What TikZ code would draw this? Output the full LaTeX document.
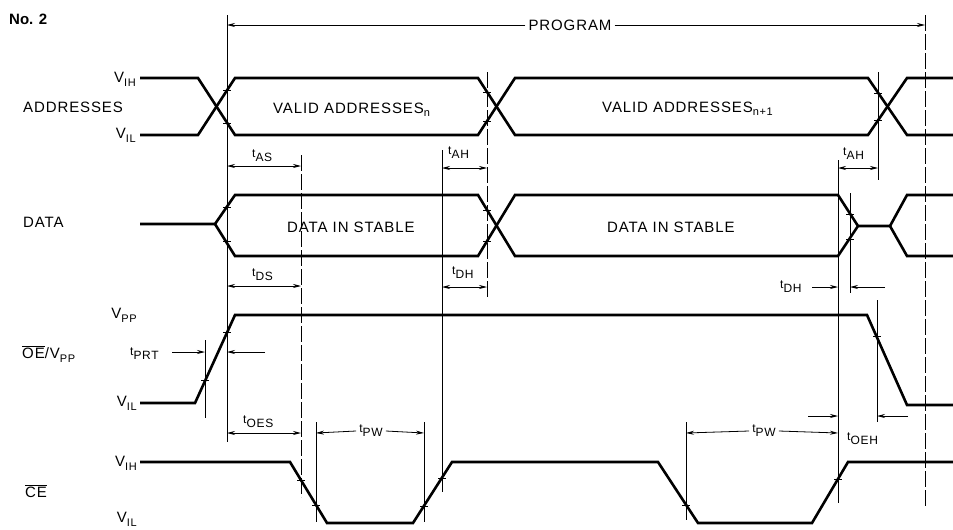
\documentclass[tikz,border=0pt]{standalone}
\usepackage{fontspec}
\setmainfont{Liberation Sans}
\newfontfamily\lf[LetterSpace=6]{Liberation Sans}
\usetikzlibrary{arrows.meta}
\newcommand\vsb[2]{#1\raisebox{-4pt}{\fontsize{11}{11}\selectfont #2}}
\newcommand\tsb[1]{{\fontsize{12}{12}\selectfont t\raisebox{-4pt}{#1}}}
\begin{document}
\begin{tikzpicture}[x=1pt,y=-1pt,
  font=\lf\fontsize{15}{17}\selectfont,
  every node/.style={inner sep=0pt},
  wave/.style={line width=2.6pt,line join=miter},
  refl/.style={line width=0.8pt},
  brk/.style={line width=0.8pt,dash pattern=on 16pt off 3pt},
  dim/.style={line width=0.8pt,{Stealth[length=8pt,width=4pt]}-{Stealth[length=8pt,width=4pt]}},
  dimr/.style={line width=0.8pt,-{Stealth[length=8pt,width=4pt]}},
  tk/.style={line width=1pt},
  tlab/.style={anchor=base west},
  vlab/.style={anchor=base east}]
\useasboundingbox (0,0) rectangle (953,530);
% title
\node[anchor=base west,font=\bfseries\fontsize{15}{16}\selectfont] (title) at (9,24) {No. 2};
% reference lines
\draw[refl] (227,15) -- (227,442);
\draw[brk] (301,155) -- (301,497);
\draw[refl] (442,150) -- (442,492);
\draw[brk] (487,72) -- (487,297);
\draw[refl] (316,422) -- (316,522);
\draw[refl] (424,422) -- (424,522);
\draw[refl] (686,422) -- (686,520);
\draw[refl] (838,160) -- (838,503);
\draw[refl] (878,72) -- (878,180);
\draw[refl] (850,193) -- (850,293);
\draw[refl] (877,300) -- (877,422);
\draw[brk] (925,15) -- (925,508);
\draw[refl] (205,340) -- (205,418);
% program
\node (prog) at (570,25) {PROGRAM};
\coordinate (pl) at (227,25);
\coordinate (pr) at (925,25);
\draw[dimr] (prog.west) ++(-3,0) -- (pl);
\draw[dimr] (prog.east) ++(3,0) -- (pr);
% labels left
\node[vlab] (aih) at (136,82) {\vsb{V}{IH}};
\node[anchor=base west] (addr) at (23,112) {ADDRESSES};
\node[vlab] (ail) at (136,138) {\vsb{V}{IL}};
\node[anchor=base west] (data) at (23,227) {DATA};
\node[vlab] (vpp) at (137,318) {\vsb{V}{PP}};
\node[anchor=base west] (oe) at (22,358) {$\overline{\mbox{\lf\fontsize{15}{17}\selectfont OE}}$/\vsb{V}{PP}};
\node[vlab] (oil) at (137,406) {\vsb{V}{IL}};
\node[vlab] (cih) at (137,466) {\vsb{V}{IH}};
\node[anchor=base west] (ce) at (25,497) {$\overline{\mbox{\lf\fontsize{15}{17}\selectfont CE}}$};
\node[vlab] (cil) at (137,522) {\vsb{V}{IL}};
% waveforms: addresses
\draw[wave] (140,78) -- (198,78) -- (235,135) -- (478,135) -- (515,78) -- (868,78) -- (907,135) -- (953,135);
\draw[wave] (140,135) -- (198,135) -- (235,78) -- (478,78) -- (515,135) -- (868,135) -- (907,78) -- (953,78);
\node[anchor=base west] (va1) at (273,113) {VALID ADDRESSES\raisebox{-3pt}{\fontsize{11}{11}\selectfont n}};
\node[anchor=base west] (va2) at (602,112) {VALID ADDRESSES\raisebox{-3pt}{\fontsize{11}{11}\selectfont n+1}};
% data
\draw[wave] (140,224) -- (215,224) -- (235,195) -- (478,195) -- (515,256) -- (838,256) -- (858,226) -- (890,226) -- (907,195) -- (953,195);
\draw[wave] (215,224) -- (235,256) -- (478,256) -- (515,195) -- (838,195) -- (858,226);
\draw[wave] (890,226) -- (907,256) -- (953,256);
\node[anchor=base west] (ds1) at (287,232) {DATA IN STABLE};
\node[anchor=base west] (ds2) at (607,232) {DATA IN STABLE};
% OE / VPP
\draw[wave] (140,403) -- (195,403) -- (235,315) -- (867,315) -- (907,405) -- (953,405);
% CE
\draw[wave] (140,462) -- (290,462) -- (327,523) -- (413,523) -- (452,462) -- (658,462) -- (698,523) -- (812,523) -- (848,462) -- (953,462);
% ticks
\foreach \p in {(227,90),(227,123),(487,92),(487,121),(878,93),(878,120),(227,207),(227,241),(487,210),(487,241),(850,214),(850,239),(205,380),(227,332),(877,336),(301,480),(316,505),(424,506),(442,478),(686,505),(838,479)}
  \draw[tk] \p ++(-4,0) -- ++(8,0);
% timing dimensions
\node[tlab] (tas) at (252,157) {\tsb{AS}};
\draw[dim] (227,166) -- (301,166);
\node[tlab] (tah1) at (448,154) {\tsb{AH}};
\draw[dim] (442,168) -- (487,168);
\node[tlab] (tah2) at (843,155) {\tsb{AH}};
\draw[dim] (838,168) -- (878,168);
\node[tlab] (tds) at (252,276) {\tsb{DS}};
\draw[dim] (227,286) -- (301,286);
\node[tlab] (tdh1) at (452,274) {\tsb{DH}};
\draw[dim] (442,287) -- (487,287);
\node[tlab] (tdh2) at (780,288) {\tsb{DH}};
\draw[dimr] (812,287) -- (838,287);
\draw[dimr] (885,287) -- (850,287);
\node[tlab] (tprt) at (130,355) {\tsb{PRT}};
\draw[dimr] (172,352) -- (205,352);
\draw[dimr] (265,352) -- (227,352);
\node[tlab] (toes) at (243,423) {\tsb{OES}};
\draw[dim] (227,433) -- (301,433);
\node[inner xsep=3pt] (tpw1) at (371,431) {\tsb{PW}};
\draw[dimr] (tpw1.west) -- (316,433);
\draw[dimr] (tpw1.east) -- (424,433);
\node[inner xsep=3pt] (tpw2) at (764,431) {\tsb{PW}};
\draw[dimr] (tpw2.west) -- (686,433);
\draw[dimr] (tpw2.east) -- (838,433);
\node[tlab] (toeh) at (847,440) {\tsb{OEH}};
\draw[dimr] (808,416) -- (838,416);
\draw[dimr] (908,416) -- (877,416);
\end{tikzpicture}
\end{document}
